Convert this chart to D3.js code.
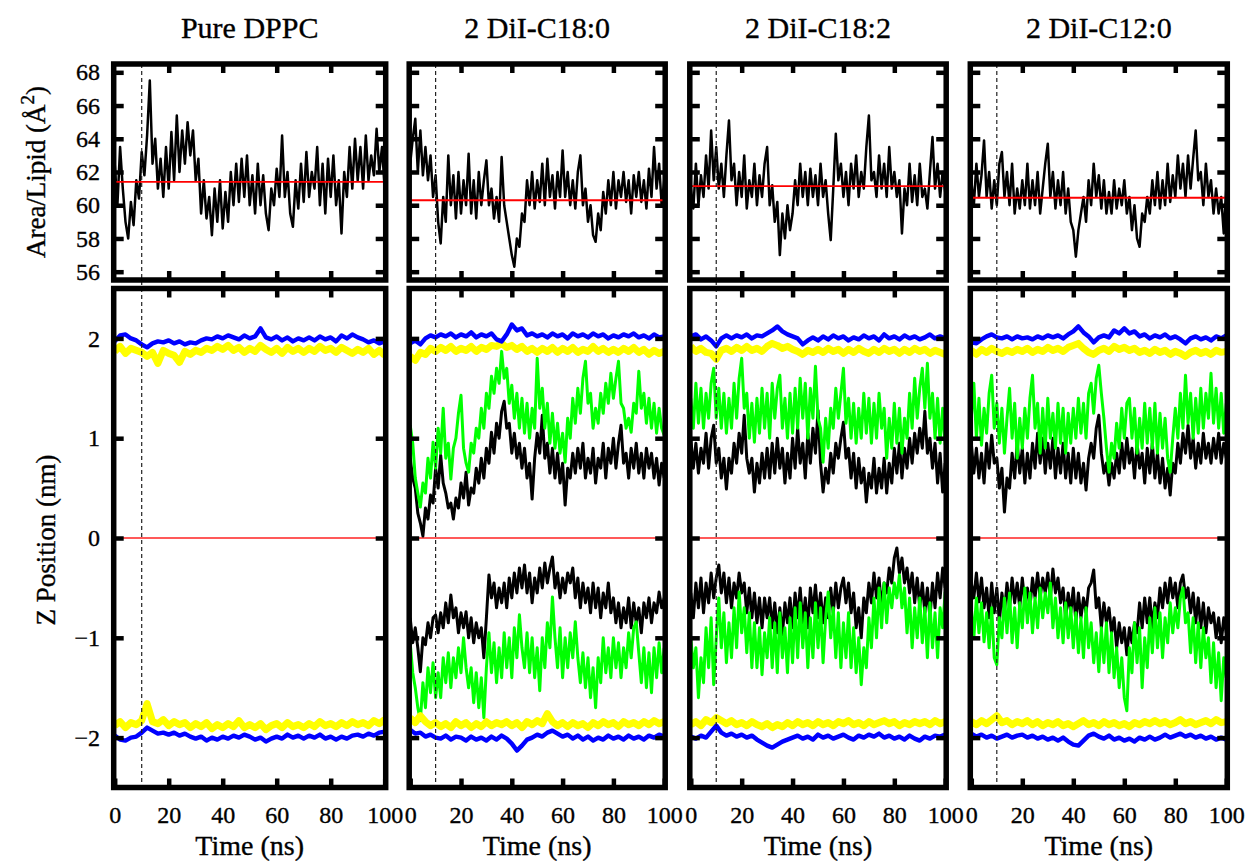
<!DOCTYPE html>
<html>
<head>
<meta charset="utf-8">
<script src="https://cdn.jsdelivr.net/npm/d3@7"></script>
<style>
  body { margin: 0; background: #fff; }
  svg { display: block; font-family: "Liberation Serif", "DejaVu Serif", serif; }
  .lbl { stroke: #000; stroke-width: 0.35px; }
</style>
</head>
<body>
<script>
const width = 1251;
const height = 867;

const titles = ["Pure DPPC", "2 DiI-C18:0", "2 DiI-C18:2", "2 DiI-C12:0"];
const xTicks = [0, 20, 40, 60, 80, 100];
const xTicksInner = [20, 40, 60, 80];
const areaTicks = [56, 58, 60, 62, 64, 66, 68];
const zTicks = [-2, -1, 0, 1, 2];
const eventTime = 10; // dashed marker (ns)
const areaMean = [61.4, 60.3, 61.15, 60.45];

// area per lipid, one value per ns (0..100)
const areaDPPC = [
  62.5,60.0,63.5,61.0,59.0,58.0,60.2,58.8,61.5,60.4,
  63.2,61.8,64.2,67.5,62.5,64.0,61.0,62.8,60.5,63.5,
  61.0,64.4,61.5,65.4,62.0,64.5,62.5,65.0,63.0,64.5,
  61.5,62.8,59.5,61.5,59.2,60.5,58.2,61.0,59.0,61.5,
  58.6,60.8,59.0,62.0,60.0,62.5,60.2,62.8,60.5,63.0,
  60.0,61.8,59.5,62.5,60.0,61.8,59.5,58.5,61.0,60.0,
  62.2,60.5,64.2,60.5,62.0,59.5,58.7,61.5,59.8,62.5,
  60.2,63.2,60.5,62.0,61.0,63.5,60.0,62.5,59.5,62.8,
  60.5,63.0,60.0,61.5,58.3,62.0,60.5,63.5,61.0,64.0,
  61.5,63.5,61.0,64.2,61.5,63.0,61.8,64.6,62.0,63.5,
  61.0];
const areaC180 = [
  62.5,64.0,65.2,62.0,64.5,61.8,63.5,61.5,63.0,60.5,
  61.8,59.0,57.7,60.5,59.0,63.0,60.0,61.8,59.2,62.0,
  59.5,61.5,60.0,63.1,59.5,61.5,59.2,62.0,60.0,61.5,
  62.7,60.0,61.0,59.2,60.5,59.0,62.9,60.0,59.0,58.0,
  57.0,56.3,58.0,57.5,59.5,59.0,61.5,60.0,62.0,59.8,
  61.5,60.2,62.5,60.0,62.8,60.5,61.8,59.8,62.0,60.5,
  63.3,60.5,62.0,60.0,61.5,59.8,62.0,63.0,60.0,61.0,
  59.0,60.0,58.2,57.8,59.5,58.5,60.8,59.5,61.5,60.0,
  62.0,59.8,61.5,60.5,62.0,60.2,61.5,59.5,61.8,60.5,
  62.0,60.2,61.5,59.8,62.2,60.5,63.5,61.0,62.5,60.0,
  61.5];
const areaC182 = [
  61.0,59.8,62.5,60.0,61.8,60.5,63.0,61.0,64.5,61.5,
  63.5,61.0,62.5,60.5,63.0,65.1,61.5,62.5,60.0,62.0,
  60.5,63.0,59.8,61.5,60.5,62.5,60.0,61.8,60.5,62.5,
  63.5,60.0,61.2,59.0,60.2,57.0,59.5,58.0,60.0,58.5,
  59.5,61.5,60.0,62.5,60.5,62.0,60.0,62.2,60.5,61.8,
  60.0,62.5,60.5,61.5,59.5,57.9,61.0,64.3,61.5,62.5,
  60.5,62.0,60.0,62.5,61.0,63.0,60.5,62.0,61.0,63.5,
  65.4,61.5,62.0,60.5,63.0,61.0,62.5,60.5,63.5,61.0,
  62.0,60.5,61.5,58.3,61.0,60.0,62.5,60.2,61.8,60.0,
  62.5,60.5,61.0,59.8,62.0,64.1,61.0,62.5,60.5,62.0,
  60.8];
const areaC120 = [
  61.5,60.0,62.5,60.5,61.8,63.9,60.5,62.0,59.8,61.5,
  60.0,62.5,63.2,60.5,62.0,60.0,62.5,59.5,61.0,59.8,
  61.5,60.0,62.5,59.8,61.5,60.0,62.0,59.5,61.0,62.5,
  63.7,60.5,62.0,59.8,61.5,60.0,62.0,59.5,61.0,59.0,
  58.5,56.9,58.5,59.5,60.5,59.0,61.5,60.0,62.5,60.5,
  61.8,59.8,61.5,59.5,60.8,59.5,61.5,59.8,61.0,60.0,
  61.5,59.5,60.5,58.5,60.0,58.0,57.5,59.5,59.0,60.5,
  59.5,61.5,60.0,62.0,59.8,61.5,60.0,62.5,60.2,61.8,
  60.5,63.0,61.0,62.5,60.5,63.0,61.0,62.8,64.5,61.5,
  62.0,60.0,62.5,60.5,61.5,59.5,61.0,59.5,60.5,58.3,
  61.0];

// blue / yellow Z positions, one value per 2 ns (0..100)
const blueUpDPPC = [
  1.97,2.03,2.04,2.0,1.98,1.94,1.91,1.95,1.97,1.96,
  1.98,1.95,1.97,1.94,1.96,1.95,1.98,2.0,1.99,2.02,
  2.0,2.03,2.01,1.99,2.03,2.0,2.02,2.1,2.01,1.99,
  2.02,1.98,2.01,1.97,2.0,1.98,2.01,1.98,2.02,1.99,
  2.01,1.97,2.03,2.0,2.04,2.01,1.99,1.96,1.98,1.95,
  1.97];
const yellowUpDPPC = [
  1.87,1.92,1.85,1.9,1.88,1.86,1.82,1.86,1.75,1.88,
  1.85,1.83,1.76,1.87,1.84,1.88,1.86,1.9,1.88,1.92,
  1.89,1.93,1.88,1.91,1.86,1.9,1.87,1.93,1.89,1.86,
  1.9,1.85,1.91,1.87,1.9,1.86,1.9,1.87,1.92,1.88,
  1.9,1.86,1.91,1.88,1.85,1.89,1.86,1.9,1.84,1.88,
  1.83];
const yellowDownDPPC = [
  -1.88,-1.84,-1.9,-1.85,-1.87,-1.83,-1.66,-1.84,-1.86,-1.82,
  -1.88,-1.84,-1.87,-1.85,-1.9,-1.86,-1.89,-1.85,-1.91,-1.87,
  -1.9,-1.86,-1.89,-1.83,-1.9,-1.87,-1.9,-1.86,-1.92,-1.88,
  -1.86,-1.9,-1.85,-1.89,-1.87,-1.9,-1.86,-1.89,-1.84,-1.88,
  -1.86,-1.89,-1.85,-1.88,-1.84,-1.87,-1.85,-1.88,-1.83,-1.86,
  -1.82];
const blueDownDPPC = [
  -1.98,-2.02,-2.03,-2.0,-1.99,-1.95,-1.9,-1.93,-1.96,-1.95,
  -1.97,-1.95,-1.98,-1.96,-1.99,-2.01,-1.99,-2.03,-2.0,-2.02,
  -1.99,-2.01,-1.98,-2.0,-1.97,-1.99,-2.02,-2.0,-2.04,-2.01,
  -1.99,-2.01,-1.97,-2.0,-1.98,-2.01,-1.98,-2.0,-1.97,-2.01,
  -1.99,-2.02,-1.99,-2.01,-1.98,-1.97,-1.99,-1.96,-1.98,-1.95,
  -1.94];

const blueUpC180 = [
  1.95,1.98,1.94,2.0,2.03,2.01,2.04,2.02,2.05,2.01,
  2.04,2.02,2.06,2.01,2.04,2.02,2.05,1.99,1.97,2.04,
  2.14,2.08,2.1,2.03,2.05,2.02,2.04,2.01,2.05,2.02,
  2.04,2.0,2.05,2.02,2.04,2.01,2.05,2.02,2.04,2.0,
  2.03,2.01,2.04,2.02,2.05,2.01,2.03,2.0,2.04,2.01,
  2.02];
const yellowUpC180 = [
  1.82,1.78,1.86,1.84,1.9,1.87,1.91,1.88,1.92,1.87,
  1.9,1.88,1.92,1.87,1.91,1.89,1.93,1.92,1.95,1.91,
  1.93,1.89,1.92,1.87,1.9,1.86,1.9,1.87,1.91,1.86,
  1.9,1.87,1.91,1.86,1.89,1.87,1.92,1.87,1.9,1.86,
  1.89,1.86,1.9,1.87,1.91,1.86,1.89,1.84,1.88,1.85,
  1.87];
const yellowDownC180 = [
  -1.8,-1.85,-1.78,-1.84,-1.88,-1.85,-1.89,-1.86,-1.9,-1.84,
  -1.88,-1.85,-1.9,-1.86,-1.89,-1.84,-1.88,-1.85,-1.87,-1.84,
  -1.88,-1.85,-1.9,-1.84,-1.87,-1.83,-1.86,-1.76,-1.84,-1.88,
  -1.85,-1.89,-1.85,-1.88,-1.86,-1.9,-1.85,-1.88,-1.84,-1.87,
  -1.85,-1.89,-1.84,-1.87,-1.85,-1.88,-1.84,-1.87,-1.83,-1.86,
  -1.84];
const blueDownC180 = [
  -1.92,-1.96,-1.95,-1.99,-1.97,-2.0,-2.01,-1.98,-2.02,-1.99,
  -2.0,-2.03,-1.99,-2.02,-2.0,-2.03,-1.99,-2.02,-1.98,-2.01,
  -2.06,-2.13,-2.08,-2.02,-2.0,-1.97,-1.99,-1.95,-1.93,-1.96,
  -1.99,-1.97,-2.01,-1.98,-2.02,-1.99,-2.03,-2.0,-2.02,-1.98,
  -2.01,-1.99,-2.02,-1.98,-2.01,-1.99,-2.02,-1.98,-2.0,-1.97,
  -1.99];

const blueUpC182 = [
  2.02,2.04,1.99,2.02,1.98,1.92,2.0,2.03,2.0,2.03,
  2.01,2.04,2.0,2.03,2.02,2.05,2.08,2.12,2.07,2.04,
  2.02,2.0,1.94,1.98,2.01,1.98,2.02,1.99,2.03,2.0,
  2.02,1.98,2.01,1.99,2.03,2.0,2.02,1.98,2.04,2.0,
  2.02,1.99,2.03,2.0,2.02,1.99,2.01,2.04,2.0,2.02,
  2.0];
const yellowUpC182 = [
  1.92,1.87,1.9,1.86,1.85,1.79,1.88,1.9,1.87,1.91,
  1.88,1.92,1.88,1.9,1.87,1.92,1.95,1.93,1.9,1.92,
  1.89,1.87,1.84,1.88,1.86,1.89,1.86,1.9,1.87,1.89,
  1.85,1.89,1.86,1.9,1.87,1.85,1.89,1.86,1.9,1.87,
  1.89,1.85,1.89,1.86,1.9,1.87,1.89,1.85,1.88,1.86,
  1.84];
const yellowDownC182 = [
  -1.87,-1.84,-1.88,-1.82,-1.85,-1.8,-1.83,-1.86,-1.83,-1.87,
  -1.85,-1.88,-1.84,-1.87,-1.89,-1.86,-1.9,-1.87,-1.89,-1.85,
  -1.88,-1.84,-1.87,-1.85,-1.88,-1.84,-1.87,-1.85,-1.88,-1.84,
  -1.86,-1.83,-1.87,-1.85,-1.88,-1.84,-1.87,-1.85,-1.83,-1.86,
  -1.84,-1.88,-1.85,-1.87,-1.84,-1.86,-1.84,-1.87,-1.83,-1.86,
  -1.84];
const blueDownC182 = [
  -1.99,-2.01,-1.98,-2.0,-1.94,-1.88,-1.95,-1.98,-1.96,-1.99,
  -1.97,-2.0,-1.98,-2.02,-2.05,-2.08,-2.1,-2.07,-2.04,-2.02,
  -2.0,-1.98,-2.01,-1.99,-2.02,-1.97,-2.0,-1.98,-2.01,-1.99,
  -1.97,-2.0,-2.02,-1.98,-2.0,-1.97,-1.99,-1.96,-2.0,-1.98,
  -2.01,-1.99,-2.02,-1.98,-2.01,-2.03,-1.99,-2.01,-1.98,-1.99,
  -1.97];

const blueUpC120 = [
  1.96,1.95,1.99,2.02,2.04,2.01,2.0,2.02,1.99,2.02,
  2.0,2.01,1.99,2.02,2.0,2.03,2.01,2.03,2.0,2.04,
  2.07,2.12,2.06,2.02,1.96,2.01,2.03,2.01,2.08,2.05,
  2.1,2.05,2.07,2.02,2.04,2.0,2.03,2.01,2.04,2.0,
  2.02,1.99,1.95,2.0,2.02,1.99,2.01,1.98,2.02,2.0,
  2.03];
const yellowUpC120 = [
  1.88,1.84,1.89,1.86,1.9,1.87,1.85,1.88,1.86,1.89,
  1.87,1.9,1.86,1.89,1.87,1.91,1.88,1.9,1.87,1.91,
  1.93,1.95,1.9,1.86,1.84,1.88,1.9,1.87,1.92,1.89,
  1.91,1.88,1.9,1.86,1.88,1.85,1.89,1.86,1.88,1.84,
  1.87,1.85,1.82,1.86,1.88,1.85,1.87,1.84,1.88,1.86,
  1.87];
const yellowDownC120 = [
  -1.84,-1.87,-1.83,-1.86,-1.82,-1.78,-1.85,-1.83,-1.87,-1.84,
  -1.86,-1.83,-1.87,-1.84,-1.88,-1.85,-1.87,-1.84,-1.88,-1.86,
  -1.89,-1.86,-1.83,-1.87,-1.85,-1.88,-1.84,-1.87,-1.85,-1.88,
  -1.86,-1.89,-1.85,-1.87,-1.84,-1.86,-1.83,-1.86,-1.84,-1.87,
  -1.85,-1.82,-1.86,-1.84,-1.87,-1.85,-1.83,-1.86,-1.82,-1.85,
  -1.84];
const blueDownC120 = [
  -1.96,-1.99,-1.97,-2.0,-1.98,-2.01,-1.99,-1.97,-2.0,-1.98,
  -1.97,-2.0,-1.98,-2.01,-1.99,-2.02,-2.0,-2.03,-2.0,-2.04,
  -2.07,-2.08,-2.03,-1.98,-1.96,-1.99,-2.01,-1.98,-2.02,-2.0,
  -2.03,-2.01,-2.04,-2.0,-2.02,-1.99,-2.02,-2.0,-1.97,-2.0,
  -1.98,-1.96,-1.99,-1.97,-2.0,-1.98,-2.01,-1.99,-2.02,-2.0,
  -2.02];

// green / black Z positions, one value per ns (0..100)
const greenUpC180 = [
  1.13,0.95,0.6,0.45,0.31,0.55,0.45,0.8,0.6,0.96,
  0.7,1.1,0.85,1.3,0.8,0.95,0.59,0.9,1.0,1.25,
  1.43,0.9,0.75,0.66,0.95,0.85,1.1,1.0,1.3,1.1,
  1.45,1.3,1.62,1.45,1.7,1.55,1.87,1.6,1.7,1.35,
  1.53,1.2,1.45,1.1,1.4,1.05,1.35,1.0,1.3,1.1,
  1.8,1.3,1.5,1.1,1.35,0.95,1.25,0.9,1.15,0.85,
  1.05,0.76,1.2,1.0,1.4,1.15,1.5,1.25,1.6,1.77,
  1.35,1.45,1.1,1.3,1.15,1.45,1.25,1.55,1.35,1.65,
  1.4,1.6,1.77,1.35,1.3,1.1,1.2,1.06,1.35,1.25,
  1.67,1.3,1.45,1.15,1.4,1.1,1.35,1.05,1.3,1.1,
  1.03];
const blackUpC180 = [
  0.8,0.6,0.5,0.25,0.15,0.02,0.3,0.19,0.43,0.35,
  0.7,0.5,0.83,0.55,0.45,0.3,0.35,0.19,0.4,0.3,
  0.55,0.4,0.66,0.33,0.5,0.45,0.7,0.55,0.8,0.6,
  0.9,0.75,1.06,0.85,1.15,1.0,1.27,1.37,1.1,1.15,
  0.85,1.05,0.8,0.95,0.7,0.9,0.6,0.75,0.39,0.8,
  1.05,0.85,1.23,0.8,0.95,0.65,0.9,0.6,0.85,0.55,
  0.75,0.33,0.7,0.6,0.85,0.65,0.9,0.7,0.95,0.6,
  0.8,0.65,0.9,0.55,0.8,0.7,0.95,0.6,0.9,0.75,
  1.0,0.7,0.95,1.13,0.75,0.85,0.6,0.9,0.7,0.95,
  0.65,0.85,0.6,0.9,0.7,0.85,0.6,0.8,0.53,0.75,
  0.6];
const blackDownC180 = [
  -0.8,-1.05,-0.9,-1.1,-1.34,-1.0,-1.07,-0.85,-1.0,-0.8,
  -0.77,-0.95,-0.75,-0.9,-0.65,-0.85,-0.57,-0.8,-0.7,-0.95,
  -0.75,-0.9,-0.74,-1.0,-0.8,-1.05,-0.85,-1.0,-0.9,-1.2,
  -0.8,-0.37,-0.6,-0.45,-0.7,-0.5,-0.65,-0.45,-0.7,-0.4,
  -0.6,-0.35,-0.55,-0.3,-0.5,-0.27,-0.55,-0.35,-0.65,-0.4,
  -0.55,-0.3,-0.5,-0.25,-0.45,-0.3,-0.19,-0.5,-0.35,-0.6,
  -0.4,-0.55,-0.35,-0.45,-0.3,-0.6,-0.4,-0.7,-0.45,-0.65,
  -0.5,-0.75,-0.45,-0.7,-0.5,-0.8,-0.55,-0.7,-0.45,-0.75,
  -0.6,-0.85,-0.65,-0.9,-0.7,-0.85,-0.6,-0.9,-0.65,-0.85,
  -0.7,-0.95,-0.65,-0.8,-0.6,-0.85,-0.65,-0.75,-0.54,-0.7,
  -0.6];
const greenDownC180 = [
  -1.05,-1.35,-1.5,-1.7,-1.83,-1.45,-1.7,-1.3,-1.55,-1.25,
  -1.6,-1.35,-1.6,-1.2,-1.45,-1.15,-1.5,-1.2,-1.4,-1.1,
  -1.35,-1.0,-1.3,-1.5,-1.3,-1.65,-1.35,-1.7,-1.4,-1.8,
  -1.3,-0.95,-1.35,-1.05,-1.45,-1.1,-1.4,-0.95,-1.3,-1.0,
  -1.4,-0.9,-1.2,-0.77,-1.1,-1.3,-0.95,-1.35,-1.0,-1.4,
  -1.1,-1.53,-1.0,-1.3,-0.85,-1.1,-0.59,-1.0,-1.3,-0.9,
  -1.4,-1.0,-1.3,-0.95,-1.2,-0.84,-1.2,-1.45,-1.15,-1.5,
  -1.2,-1.6,-1.3,-1.7,-1.2,-1.45,-1.0,-1.35,-1.1,-1.4,
  -1.0,-1.3,-1.05,-1.4,-1.1,-1.3,-0.95,-1.2,-0.9,-0.84,
  -1.15,-1.45,-1.1,-1.5,-1.15,-1.55,-1.1,-1.4,-1.05,-1.35,
  -1.1];

const greenUpC182 = [
  1.4,1.1,1.55,1.15,1.5,1.1,1.45,1.2,1.55,1.7,
  1.2,1.5,1.1,1.45,1.05,1.4,1.1,1.55,1.2,1.6,
  1.8,1.3,1.45,1.0,1.35,0.96,1.4,1.05,1.5,1.1,
  1.45,1.0,1.55,1.2,1.5,1.63,1.1,1.4,1.0,1.45,
  1.05,1.5,1.1,1.6,1.2,1.55,1.0,1.5,1.2,1.72,
  1.2,1.1,0.76,1.2,0.9,1.3,1.1,1.5,1.2,1.45,
  1.7,1.15,1.4,1.0,1.35,0.95,1.3,1.0,1.45,1.05,
  1.4,0.95,1.35,1.0,1.45,1.1,1.3,0.8,1.2,0.9,
  1.35,0.95,1.3,0.85,1.2,1.0,1.45,1.1,1.6,1.2,
  1.5,1.7,1.3,1.75,1.2,1.45,1.0,1.4,0.95,1.3,
  0.93];
const blackUpC182 = [
  1.0,0.7,0.95,0.65,0.9,0.75,1.05,0.7,1.0,1.13,
  0.75,0.9,0.6,0.8,0.49,0.8,0.65,0.95,0.75,1.05,
  0.85,1.23,0.8,0.65,0.8,0.46,0.75,0.55,0.85,0.6,
  0.9,0.6,0.95,0.65,1.0,0.7,0.9,0.55,0.85,0.6,
  1.0,0.7,1.1,0.75,0.95,0.6,1.05,0.75,1.1,0.85,
  1.28,0.75,0.46,0.7,0.55,0.85,0.65,0.95,0.8,1.0,
  1.16,0.8,0.9,0.6,0.85,0.5,0.8,0.55,0.7,0.36,
  0.65,0.5,0.8,0.45,0.7,0.5,0.8,0.45,0.75,0.55,
  0.9,0.65,0.95,0.6,0.9,0.7,1.0,0.75,1.05,0.85,
  1.1,0.9,1.27,0.85,1.0,0.7,0.95,0.55,0.85,0.46,
  0.75];
const blackDownC182 = [
  -0.55,-0.8,-0.45,-0.7,-0.4,-0.75,-0.45,-0.65,-0.35,-0.6,
  -0.4,-0.27,-0.55,-0.35,-0.65,-0.4,-0.7,-0.45,-0.6,-0.35,
  -0.55,-0.45,-0.75,-0.5,-0.8,-0.55,-0.85,-0.6,-0.9,-0.6,
  -0.8,-0.6,-0.9,-0.65,-0.95,-0.7,-0.97,-0.65,-0.85,-0.6,
  -0.9,-0.55,-0.8,-0.5,-0.85,-0.6,-0.9,-0.5,-0.75,-0.47,
  -0.8,-0.55,-0.85,-0.6,-0.8,-0.5,-0.75,-0.45,-0.7,-0.5,
  -0.4,-0.65,-0.45,-0.75,-0.55,-0.9,-0.7,-1.0,-0.6,-0.75,
  -0.45,-0.65,-0.35,-0.6,-0.4,-0.7,-0.45,-0.55,-0.3,-0.45,
  -0.2,-0.1,-0.35,-0.2,-0.45,-0.3,-0.55,-0.35,-0.65,-0.4,
  -0.7,-0.45,-0.75,-0.5,-0.8,-0.45,-0.7,-0.35,-0.6,-0.3,
  -0.5];
const greenDownC182 = [
  -1.0,-1.3,-1.1,-1.6,-1.2,-1.45,-0.9,-1.3,-0.8,-1.47,
  -1.0,-0.6,-1.1,-0.75,-1.25,-0.85,-1.2,-0.7,-1.1,-0.54,
  -0.95,-0.7,-1.15,-0.75,-1.3,-0.85,-1.3,-0.9,-1.37,-0.95,
  -1.2,-0.8,-1.3,-0.85,-1.35,-0.75,-1.2,-0.9,-1.35,-0.8,
  -1.25,-0.7,-1.2,-0.65,-1.1,-0.75,-1.3,-0.8,-1.2,-0.65,
  -1.1,-0.7,-1.25,-0.8,-0.54,-1.0,-0.7,-1.2,-0.75,-1.3,
  -0.85,-1.2,-0.75,-1.3,-0.9,-1.35,-1.0,-1.47,-1.1,-1.3,
  -0.8,-1.1,-0.6,-1.0,-0.5,-0.9,-0.45,-0.85,-0.5,-0.7,
  -0.45,-0.6,-0.37,-0.7,-0.5,-0.95,-0.6,-1.1,-0.7,-1.0,
  -0.6,-1.05,-0.7,-1.2,-0.65,-1.1,-0.75,-1.2,-0.7,-0.9,
  -0.54];

const greenUpC120 = [
  1.2,1.55,1.0,1.4,0.93,1.3,1.05,1.45,1.63,1.1,
  1.35,0.95,1.3,0.85,1.2,1.5,1.0,1.35,0.8,1.2,
  0.9,1.3,1.0,1.4,1.63,1.1,1.35,0.85,1.3,0.9,
  1.4,1.0,1.25,0.9,1.35,0.95,1.3,0.85,1.25,0.95,
  1.3,1.0,1.4,1.05,1.35,1.0,1.45,1.55,1.25,1.6,
  1.73,1.45,1.2,0.9,0.66,0.95,0.8,1.15,0.9,1.3,
  1.0,1.35,1.4,1.0,1.3,0.85,1.2,0.9,1.35,0.95,
  1.3,0.9,1.35,0.85,1.25,0.9,1.2,0.8,0.66,1.0,
  1.3,1.0,1.45,1.1,1.63,1.15,1.45,1.0,1.4,1.05,
  1.5,1.1,1.45,1.2,1.65,1.15,1.5,1.1,1.45,1.05,
  1.35];
const blackUpC120 = [
  0.95,0.65,0.9,0.6,0.85,0.55,0.95,0.7,1.03,0.75,
  0.8,0.5,0.7,0.26,0.6,0.5,0.85,0.6,0.95,0.65,
  0.9,0.55,0.85,0.6,0.95,0.7,1.05,0.75,1.0,0.65,
  0.95,0.7,1.0,0.6,0.9,0.65,0.95,0.6,0.85,0.55,
  0.9,0.6,0.85,0.55,0.75,0.48,0.8,0.95,0.8,1.1,
  1.23,0.85,0.65,0.75,0.53,0.75,0.6,0.85,0.65,0.95,
  0.7,1.0,0.75,0.9,0.6,0.95,0.7,0.85,0.55,0.9,
  0.65,0.95,0.6,0.85,0.55,0.8,0.5,0.7,0.43,0.75,
  0.65,0.95,0.75,1.05,0.85,1.13,0.8,1.0,0.7,0.95,
  0.75,1.05,0.8,0.95,0.75,1.0,0.8,1.05,0.75,0.95,
  0.8];
const blackDownC120 = [
  -0.45,-0.6,-0.35,-0.64,-0.4,-0.7,-0.5,-0.8,-0.45,-0.75,
  -0.5,-0.84,-0.55,-0.75,-0.45,-0.7,-0.4,-0.65,-0.45,-0.7,
  -0.4,-0.65,-0.5,-0.7,-0.4,-0.6,-0.35,-0.6,-0.4,-0.55,
  -0.35,-0.6,-0.31,-0.55,-0.4,-0.65,-0.5,-0.8,-0.55,-0.75,
  -0.5,-0.84,-0.55,-0.8,-0.6,-0.75,-0.5,-0.45,-0.32,-0.7,
  -0.6,-0.9,-0.65,-0.85,-0.7,-0.95,-0.8,-1.1,-0.85,-1.05,
  -0.9,-1.17,-0.9,-1.05,-0.85,-0.95,-0.65,-0.9,-0.6,-0.85,
  -0.6,-0.9,-0.65,-0.8,-0.5,-0.7,-0.45,-0.65,-0.4,-0.6,
  -0.45,-0.7,-0.45,-0.37,-0.6,-0.5,-0.75,-0.55,-0.85,-0.6,
  -0.9,-0.65,-0.95,-0.7,-0.85,-0.75,-1.0,-0.8,-1.05,-0.8,
  -0.95];
const greenDownC120 = [
  -0.7,-1.0,-0.6,-0.95,-0.65,-1.04,-0.75,-1.1,-0.7,-1.2,
  -1.27,-0.8,-1.0,-0.6,-0.95,-0.55,-1.05,-0.7,-1.1,-0.65,
  -0.9,-0.5,-0.85,-0.55,-0.95,-0.6,-0.9,-0.5,-0.8,-0.55,
  -0.75,-0.45,-0.9,-0.6,-1.0,-0.7,-1.05,-0.65,-1.0,-0.7,
  -1.1,-0.75,-1.15,-0.8,-1.2,-0.7,-1.1,-0.85,-1.25,-0.95,
  -1.34,-0.9,-1.25,-0.85,-1.35,-0.95,-1.4,-1.1,-1.5,-1.2,
  -1.6,-1.73,-1.1,-1.35,-0.85,-1.25,-0.9,-1.5,-1.0,-1.3,
  -0.8,-1.15,-0.7,-1.1,-0.75,-1.2,-0.8,-1.05,-0.65,-0.95,
  -0.7,-0.9,-0.6,-0.5,-0.85,-0.75,-1.15,-0.8,-1.25,-0.85,
  -1.3,-0.9,-1.2,-1.0,-1.45,-1.05,-1.5,-1.15,-1.63,-1.2,
  -1.4];

const columns = [
  { area: areaDPPC, blueUp: blueUpDPPC, yellowUp: yellowUpDPPC, blueDown: blueDownDPPC, yellowDown: yellowDownDPPC },
  { area: areaC180, blueUp: blueUpC180, yellowUp: yellowUpC180, blueDown: blueDownC180, yellowDown: yellowDownC180,
    greenUp: greenUpC180, blackUp: blackUpC180, greenDown: greenDownC180, blackDown: blackDownC180 },
  { area: areaC182, blueUp: blueUpC182, yellowUp: yellowUpC182, blueDown: blueDownC182, yellowDown: yellowDownC182,
    greenUp: greenUpC182, blackUp: blackUpC182, greenDown: greenDownC182, blackDown: blackDownC182 },
  { area: areaC120, blueUp: blueUpC120, yellowUp: yellowUpC120, blueDown: blueDownC120, yellowDown: yellowDownC120,
    greenUp: greenUpC120, blackUp: blackUpC120, greenDown: greenDownC120, blackDown: blackDownC120 }
];

// layout
const colRange = [[114.7, 384.7], [410.2, 664.2], [690.8, 945.2], [971.3, 1226.3]];
const topBox = [64, 280];
const botBox = [288.5, 787.5];
const tickLen = 9;
const tickFont = 24;

const svg = d3.select("body").append("svg")
  .attr("width", width)
  .attr("height", height);

// soften the data strokes a little, like the bitmap original
svg.append("defs").append("filter").attr("id", "soft")
  .attr("x", "-5%").attr("y", "-5%").attr("width", "110%").attr("height", "110%")
  .append("feGaussianBlur").attr("stdDeviation", 0.45);

const yArea = d3.scaleLinear().domain([55.5, 68.5]).range([topBox[1], topBox[0]]);
const yZ = d3.scaleLinear().domain([-2.5, 2.5]).range([botBox[1], botBox[0]]);

function styleAxis(g) {
  g.select(".domain").remove();
  g.selectAll(".tick line").attr("stroke", "#000").attr("stroke-width", 4.5);
  g.selectAll(".tick text")
    .attr("fill", "#000")
    .attr("class", "lbl")
    .style("font-family", '"Liberation Serif", "DejaVu Serif", serif')
    .style("font-size", tickFont + "px");
}

columns.forEach(function(col, i) {
  const x = d3.scaleLinear().domain([0, 100]).range(colRange[i]);
  const [x0, x1] = colRange[i];
  const lineOf = (y) => d3.line()
    .x((d, j, arr) => x(j * 100 / (arr.length - 1)))
    .y(d => y(d));

  const clipTop = "clip-top-" + i;
  const clipBot = "clip-bot-" + i;
  svg.append("clipPath").attr("id", clipTop).append("rect")
    .attr("x", x0).attr("y", topBox[0]).attr("width", x1 - x0).attr("height", topBox[1] - topBox[0]);
  svg.append("clipPath").attr("id", clipBot).append("rect")
    .attr("x", x0).attr("y", botBox[0]).attr("width", x1 - x0).attr("height", botBox[1] - botBox[0]);

  // ---- top panel: area per lipid
  const gt = svg.append("g").attr("clip-path", "url(#" + clipTop + ")")
    .append("g").attr("filter", "url(#soft)");
  gt.append("path")
    .datum(col.area)
    .attr("d", lineOf(yArea))
    .attr("fill", "none")
    .attr("stroke", "#000")
    .attr("stroke-width", 2.5)
    .attr("stroke-linejoin", "round");
  gt.append("line")
    .attr("x1", x(0)).attr("x2", x(100))
    .attr("y1", yArea(areaMean[i])).attr("y2", yArea(areaMean[i]))
    .attr("stroke", "#ff0000")
    .attr("stroke-width", 1.8);

  // ---- bottom panel: Z positions
  const gb = svg.append("g").attr("clip-path", "url(#" + clipBot + ")")
    .append("g").attr("filter", "url(#soft)");
  gb.append("line")
    .attr("x1", x(0)).attr("x2", x(100))
    .attr("y1", yZ(0)).attr("y2", yZ(0))
    .attr("stroke", "#ff2020")
    .attr("stroke-width", 1.3);

  const series = [];
  if (col.blackUp) {
    series.push([col.blackUp, "#000000", 3], [col.blackDown, "#000000", 3]);
    series.push([col.greenUp, "#00ff00", 3], [col.greenDown, "#00ff00", 3]);
  }
  series.push([col.yellowUp, "#ffff00", 7], [col.yellowDown, "#ffff00", 7]);
  series.push([col.blueUp, "#0000ff", 4.4], [col.blueDown, "#0000ff", 4.4]);

  series.forEach(function(s) {
    gb.append("path")
      .datum(s[0])
      .attr("d", lineOf(yZ))
      .attr("fill", "none")
      .attr("stroke", s[1])
      .attr("stroke-width", s[2])
      .attr("stroke-linejoin", "round");
  });

  // dashed marker
  svg.append("line")
    .attr("x1", x(eventTime)).attr("x2", x(eventTime))
    .attr("y1", topBox[0]).attr("y2", botBox[1])
    .attr("stroke", "#222")
    .attr("stroke-width", 1.2)
    .attr("stroke-dasharray", "4,3");

  // ---- axes (ticks point inward, mirrored)
  const noLabel = () => "";
  styleAxis(svg.append("g").attr("transform", "translate(" + x0 + ",0)")
    .call(d3.axisLeft(yArea).tickValues(areaTicks).tickSize(-tickLen).tickPadding(14.7)
      .tickFormat(i === 0 ? d3.format("d") : noLabel)));
  styleAxis(svg.append("g").attr("transform", "translate(" + x1 + ",0)")
    .call(d3.axisRight(yArea).tickValues(areaTicks).tickSize(-tickLen).tickFormat(noLabel)));
  styleAxis(svg.append("g").attr("transform", "translate(0," + topBox[0] + ")")
    .call(d3.axisTop(x).tickValues(xTicksInner).tickSize(-tickLen).tickFormat(noLabel)));
  styleAxis(svg.append("g").attr("transform", "translate(0," + topBox[1] + ")")
    .call(d3.axisBottom(x).tickValues(xTicksInner).tickSize(-tickLen).tickFormat(noLabel)));

  styleAxis(svg.append("g").attr("transform", "translate(" + x0 + ",0)")
    .call(d3.axisLeft(yZ).tickValues(zTicks).tickSize(-tickLen).tickPadding(14.7)
      .tickFormat(i === 0 ? d3.format("d") : noLabel)));
  styleAxis(svg.append("g").attr("transform", "translate(" + x1 + ",0)")
    .call(d3.axisRight(yZ).tickValues(zTicks).tickSize(-tickLen).tickFormat(noLabel)));
  styleAxis(svg.append("g").attr("transform", "translate(0," + botBox[0] + ")")
    .call(d3.axisTop(x).tickValues(xTicksInner).tickSize(-tickLen).tickFormat(noLabel)));
  styleAxis(svg.append("g").attr("transform", "translate(0," + botBox[1] + ")")
    .call(d3.axisBottom(x).tickValues(xTicks).tickSize(-tickLen).tickPadding(18).tickFormat(d3.format("d"))));

  // frames
  [topBox, botBox].forEach(function(b) {
    svg.append("rect")
      .attr("x", x0 - 1).attr("y", b[0])
      .attr("width", x1 - x0 + 2).attr("height", b[1] - b[0])
      .attr("fill", "none")
      .attr("stroke", "#000")
      .attr("stroke-width", 5.5);
  });

  // titles and x label
  svg.append("text")
    .attr("class", "lbl")
    .attr("x", (x0 + x1) / 2).attr("y", 38)
    .attr("text-anchor", "middle")
    .style("font-size", "30px")
    .text(titles[i]);
  svg.append("text")
    .attr("class", "lbl")
    .attr("x", (x0 + x1) / 2).attr("y", 855)
    .attr("text-anchor", "middle")
    .style("font-size", "28px")
    .text("Time (ns)");
});

// y labels
const areaLabel = svg.append("text")
  .attr("class", "lbl")
  .attr("transform", "translate(45,172) rotate(-90)")
  .attr("text-anchor", "middle")
  .style("font-size", "27px");
areaLabel.append("tspan").text("Area/Lipid (Å");
areaLabel.append("tspan").attr("dy", -11).style("font-size", "19px").text("2");
areaLabel.append("tspan").attr("dy", 11).text(")");

svg.append("text")
  .attr("class", "lbl")
  .attr("transform", "translate(55,540) rotate(-90)")
  .attr("text-anchor", "middle")
  .style("font-size", "27px")
  .text("Z Position (nm)");
</script>
</body>
</html>
